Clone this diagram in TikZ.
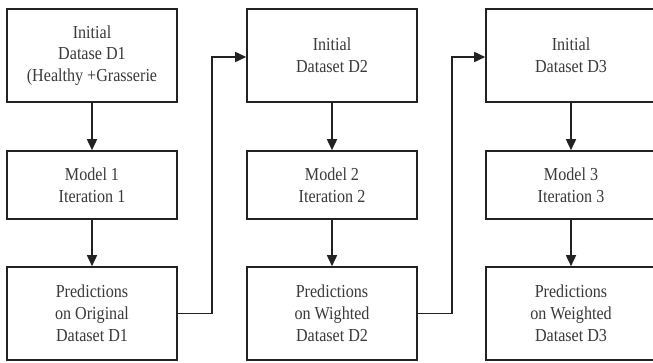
\documentclass[tikz,border=0pt]{standalone}
\usepackage{fontspec}
\setmainfont[FakeStretch=0.88]{Liberation Serif}
\usetikzlibrary{arrows.meta}
\definecolor{ink}{HTML}{222222}
\definecolor{txt}{HTML}{3A3A3A}
\begin{document}
\begin{tikzpicture}[x=1pt,y=-1pt,
  box/.style={draw=ink,line width=1.6pt,minimum width=170pt,align=center,inner sep=0pt,
    text=txt,font=\fontsize{18.3}{21.8}\selectfont},
  tall/.style={box,minimum height=93pt},
  short/.style={box,minimum height=68pt},
  conn/.style={draw=ink,line width=1.6pt,-{Triangle[length=11pt,width=10pt]}}]
\useasboundingbox (0,0) rectangle (653,362);
\clip (0,0) rectangle (653,362);
\fill[white] (0,0) rectangle (653,362);
\node[tall]  (a1) at (92,55.5)  {Initial\\Datase D1\\(Healthy +Grasserie};
\node[short] (m1) at (92,185)   {Model 1\\Iteration 1};
\node[tall]  (p1) at (92,313.5) {Predictions\\on Original\\Dataset D1};
\node[tall]  (a2) at (332,55.5) {Initial\\Dataset D2};
\node[short] (m2) at (332,185)  {Model 2\\Iteration 2};
\node[tall]  (p2) at (332,313.5){Predictions\\on Wighted\\Dataset D2};
\node[tall]  (a3) at (571,55.5) {Initial\\Dataset D3};
\node[short] (m3) at (571,185)  {Model 3\\Iteration 3};
\node[tall]  (p3) at (571,313.5){Predictions\\on Weighted\\Dataset D3};
\foreach \c in {1,2,3}{
  \draw[conn] (a\c) -- (m\c);
  \draw[conn] (m\c) -- (p\c);
}
\coordinate (k1) at (212,0);
\coordinate (k2) at (452,0);
\draw[conn] (p1.east) -| (k1 |- 0,57) -- (a2.west |- 0,57);
\draw[conn] (p2.east) -| (k2 |- 0,57) -- (a3.west |- 0,57);
\end{tikzpicture}
\end{document}
